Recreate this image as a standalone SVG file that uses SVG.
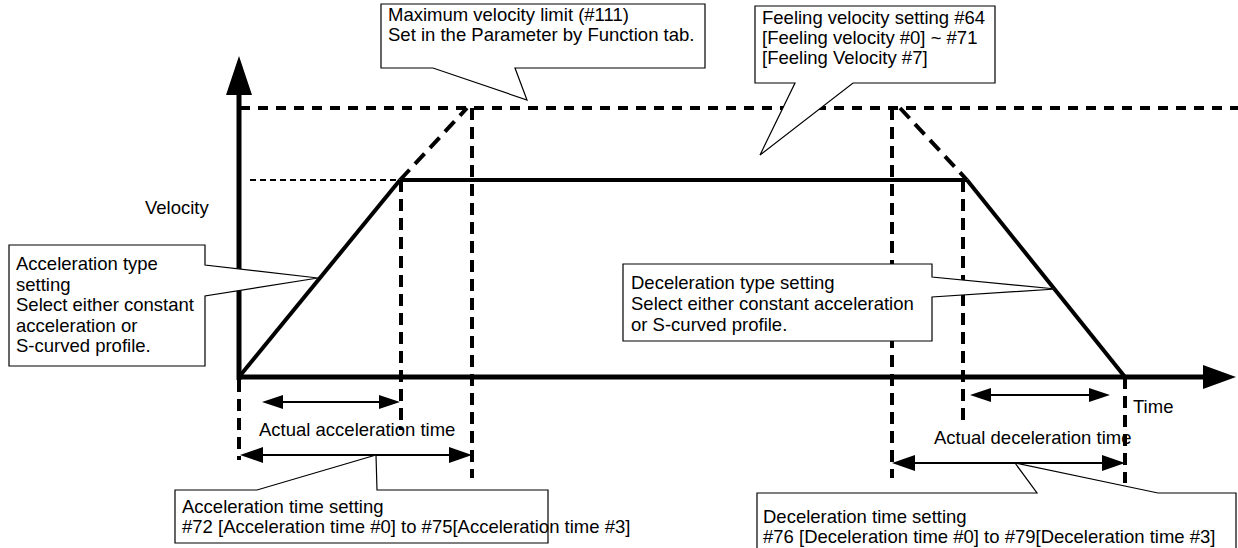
<svg xmlns="http://www.w3.org/2000/svg" width="1238" height="548" viewBox="0 0 1238 548">
<style>
text{font-family:"Liberation Sans",Arial,sans-serif;font-size:18.5px;fill:#000}
.callout{fill:#fff;stroke:#000;stroke-width:1.2}
.axis{stroke:#000;stroke-width:5;fill:none}
.solid{stroke:#000;stroke-width:4;fill:none}
.vdash{stroke:#000;stroke-width:4;stroke-dasharray:12 7;fill:none}
.hdash{stroke:#000;stroke-width:4;stroke-dasharray:10 8;fill:none}
.ddash{stroke:#000;stroke-width:4;stroke-dasharray:14 8;fill:none}
.thin{stroke:#000;stroke-width:2;stroke-dasharray:6 4;fill:none}
.dim{stroke:#000;stroke-width:2;fill:none}
.head{fill:#000}
</style>
<g id="connectors">
  <line class="hdash" x1="240" y1="108" x2="1238" y2="108"/>
  <line class="thin" x1="250" y1="180" x2="400" y2="180"/>
  <line class="vdash" x1="239" y1="380" x2="239" y2="460"/>
  <line class="vdash" x1="401" y1="180" x2="401" y2="430"/>
  <line class="vdash" x1="472" y1="108" x2="472" y2="478"/>
  <line class="vdash" x1="892" y1="108" x2="892" y2="478"/>
  <line class="vdash" x1="963" y1="180" x2="963" y2="426"/>
  <line class="vdash" x1="1125" y1="377" x2="1125" y2="483"/>
  <line class="ddash" x1="400" y1="180" x2="467" y2="108"/>
  <line class="ddash" x1="900" y1="108" x2="967" y2="180"/>
  <line class="solid" x1="239" y1="377" x2="400" y2="180"/>
  <line class="solid" x1="400" y1="180" x2="967" y2="180"/>
  <line class="solid" x1="967" y1="180" x2="1125" y2="377"/>
  <line class="axis" x1="239" y1="380" x2="239" y2="93"/>
  <polygon class="head" points="226,95 239,56 252,95"/>
  <line class="axis" x1="237" y1="377" x2="1205" y2="377"/>
  <polygon class="head" points="1203,365 1236,377 1203,389"/>
  <line class="dim" x1="278" y1="402" x2="384" y2="402"/>
  <polygon class="head" points="262,402 283,395 283,409"/>
  <polygon class="head" points="400,402 379,395 379,409"/>
  <line class="dim" x1="258" y1="455" x2="454" y2="455"/>
  <polygon class="head" points="240,455 263,447 263,463"/>
  <polygon class="head" points="472,455 449,447 449,463"/>
  <line class="dim" x1="986" y1="395" x2="1094" y2="395"/>
  <polygon class="head" points="970,395 991,388 991,402"/>
  <polygon class="head" points="1110,395 1089,388 1089,402"/>
  <line class="dim" x1="910" y1="463" x2="1107" y2="463"/>
  <polygon class="head" points="892,463 915,455 915,471"/>
  <polygon class="head" points="1125,463 1102,455 1102,471"/>
</g>
<g id="label-velocity"><text x="145" y="214">Velocity</text></g>
<g id="label-time"><text x="1133" y="413">Time</text></g>
<g id="label-actual-acc"><text x="259" y="436">Actual acceleration time</text></g>
<g id="label-actual-dec"><text x="934" y="444">Actual deceleration time</text></g>
<g id="node-max-velocity">
  <path class="callout" d="M381,4 H705 V68 H515 L527,100 L433,68 H381 Z"/>
  <text x="388" y="21">Maximum velocity limit (#111)</text>
  <text x="388" y="41">Set in the Parameter by Function tab.</text>
</g>
<g id="node-feeling-velocity">
  <path class="callout" d="M755,6 H995 V83 H853 L760,155 L795,83 H755 Z"/>
  <text x="762" y="24">Feeling velocity setting #64</text>
  <text x="762" y="44">[Feeling velocity #0] ~ #71</text>
  <text x="762" y="64">[Feeling Velocity #7]</text>
</g>
<g id="node-acc-type">
  <path class="callout" d="M9,245 H205 V265 L318,278 L205,296 V366 H9 Z"/>
  <text x="16" y="270">Acceleration type</text>
  <text x="16" y="291">setting</text>
  <text x="16" y="311">Select either constant</text>
  <text x="16" y="332">acceleration or</text>
  <text x="16" y="352">S-curved profile.</text>
</g>
<g id="node-dec-type">
  <path class="callout" d="M623,264 H932 V277 L1056,289 L932,297 V341 H623 Z"/>
  <text x="631" y="289">Deceleration type setting</text>
  <text x="631" y="310">Select either constant acceleration</text>
  <text x="631" y="331">or S-curved profile.</text>
</g>
<g id="node-acc-time">
  <path class="callout" d="M175,490 H257 L376,455 L377,490 H548 V543 H175 Z"/>
  <text x="182" y="513">Acceleration time setting</text>
  <text x="182" y="533">#72 [Acceleration time #0] to #75[Acceleration time #3]</text>
</g>
<g id="node-dec-time">
  <path class="callout" d="M757,493 H1037 L1015,463 L1158,493 H1236 V552 H757 Z"/>
  <text x="763" y="523">Deceleration time setting</text>
  <text x="763" y="543">#76 [Deceleration time #0] to #79[Deceleration time #3]</text>
</g>
</svg>
